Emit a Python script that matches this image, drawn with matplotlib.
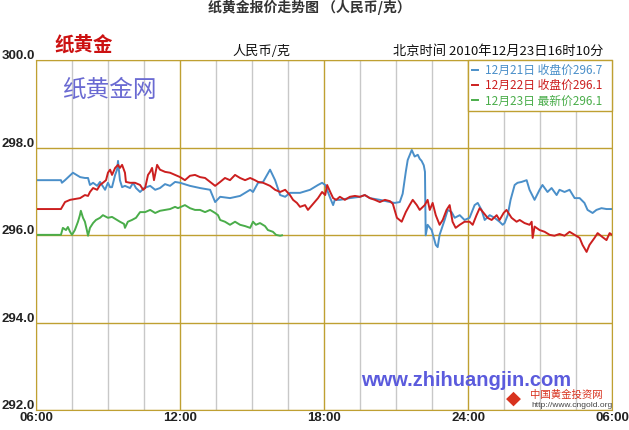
import matplotlib
matplotlib.use("Agg")
import matplotlib.pyplot as plt
from matplotlib.ticker import MultipleLocator
from matplotlib.transforms import ScaledTranslation

CJK = ['Noto Sans CJK SC', 'DejaVu Sans']
plt.rcParams['font.family'] = ['Liberation Sans', 'Noto Sans CJK SC', 'DejaVu Sans']

# hours since 06:00 of the day (30 = 06:00 next morning), price in 元/克
t_21 = [6.00, 7.02, 7.06, 7.19, 7.52, 7.82, 8.02, 8.15, 8.23, 8.36, 8.53, 8.65, 8.73, 8.86,
        8.98, 9.07, 9.15, 9.28, 9.36, 9.40, 9.48, 9.57, 9.69, 9.90, 10.03, 10.15, 10.32,
        10.49, 10.74, 10.95, 11.15, 11.36, 11.57, 11.78, 11.99, 12.40, 12.82, 13.24, 13.45,
        13.66, 14.07, 14.49, 14.70, 14.91, 15.03, 15.24, 15.45, 15.74, 15.95, 16.16, 16.37,
        16.57, 16.99, 17.41, 17.74, 17.91, 18.04, 18.25, 18.37, 18.44, 18.65, 19.07, 19.49,
        19.69, 19.90, 20.32, 20.74, 20.94, 21.15, 21.27, 21.40, 21.48, 21.65, 21.77, 21.90,
        21.98, 22.06, 22.15, 22.20, 22.23, 22.31, 22.48, 22.65, 22.73, 22.81, 23.02, 23.15,
        23.31, 23.44, 23.65, 23.85, 24.06, 24.27, 24.40, 24.56, 24.69, 24.90, 25.10, 25.31,
        25.44, 25.52, 25.65, 25.77, 25.94, 26.06, 26.23, 26.44, 26.56, 26.77, 26.98, 27.10,
        27.31, 27.48, 27.69, 27.81, 28.02, 28.23, 28.44, 28.65, 28.85, 28.98, 29.19, 29.35,
        29.56, 29.77, 30.00]
p_21 = [297.26, 297.26, 297.20, 297.26, 297.43, 297.33, 297.31, 297.31, 297.15, 297.20, 297.13,
        297.22, 297.15, 297.04, 297.20, 297.10, 297.10, 297.38, 297.50, 297.70, 297.26, 297.10,
        297.13, 297.08, 297.20, 297.08, 296.99, 297.08, 297.13, 297.04, 297.08, 297.17, 297.13,
        297.22, 297.20, 297.13, 297.08, 297.04, 296.76, 296.88, 296.85, 296.90, 296.97, 297.04,
        296.99, 297.20, 297.22, 297.50, 297.26, 296.92, 296.88, 296.97, 296.97, 297.04, 297.15,
        297.20, 297.15, 296.85, 296.69, 296.81, 296.81, 296.85, 296.88, 296.92, 296.85, 296.81,
        296.76, 296.74, 296.76, 296.95, 297.45, 297.72, 297.95, 297.80, 297.84, 297.75, 297.70,
        297.60, 297.45, 296.00, 296.24, 296.12, 295.78, 295.73, 296.01, 296.35, 296.58, 296.53,
        296.40, 296.46, 296.35, 296.40, 296.69, 296.74, 296.58, 296.35, 296.46, 296.40, 296.31,
        296.24, 296.28, 296.46, 296.81, 297.15, 297.20, 297.22, 297.26, 297.04, 296.81, 297.04,
        297.15, 296.99, 297.08, 296.92, 297.04, 296.99, 297.04, 296.85, 296.85, 296.74, 296.58,
        296.51, 296.58, 296.62, 296.60, 296.60]

t_22 = [6.00, 7.02, 7.19, 7.40, 7.60, 7.82, 8.02, 8.15, 8.23, 8.36, 8.53, 8.65, 8.77, 8.90,
        8.98, 9.07, 9.15, 9.28, 9.40, 9.48, 9.57, 9.69, 9.73, 9.90, 10.11, 10.32, 10.45,
        10.53, 10.65, 10.74, 10.82, 10.90, 11.03, 11.15, 11.36, 11.57, 11.78, 11.99, 12.19,
        12.40, 12.61, 12.82, 13.03, 13.24, 13.45, 13.66, 13.86, 14.07, 14.28, 14.49, 14.70,
        14.91, 15.11, 15.24, 15.45, 15.74, 15.95, 16.16, 16.37, 16.57, 16.70, 16.86, 16.99,
        17.20, 17.32, 17.49, 17.74, 17.91, 18.04, 18.12, 18.25, 18.37, 18.50, 18.65, 18.86,
        19.07, 19.28, 19.49, 19.69, 19.90, 20.11, 20.32, 20.53, 20.74, 20.86, 21.03, 21.23,
        21.40, 21.56, 21.69, 21.86, 21.98, 22.19, 22.31, 22.40, 22.52, 22.65, 22.81, 22.94,
        23.10, 23.23, 23.35, 23.48, 23.65, 23.85, 24.06, 24.19, 24.35, 24.48, 24.65, 24.81,
        24.98, 25.19, 25.31, 25.48, 25.60, 25.81, 26.02, 26.15, 26.35, 26.56, 26.65, 26.69,
        26.77, 26.98, 27.19, 27.40, 27.60, 27.81, 28.02, 28.23, 28.44, 28.65, 28.77, 28.94,
        29.06, 29.27, 29.40, 29.60, 29.77, 29.90, 30.00]
p_22 = [296.60, 296.60, 296.76, 296.81, 296.83, 296.85, 296.92, 296.90, 296.99, 297.08, 297.04,
        297.15, 297.20, 297.26, 297.43, 297.50, 297.38, 297.54, 297.61, 297.54, 297.61, 297.43,
        297.22, 297.20, 297.20, 297.15, 297.04, 297.08, 297.38, 297.45, 297.54, 297.26, 297.61,
        297.50, 297.45, 297.43, 297.38, 297.33, 297.26, 297.36, 297.38, 297.33, 297.31, 297.22,
        297.13, 297.22, 297.31, 297.26, 297.38, 297.31, 297.26, 297.31, 297.26, 297.22, 297.20,
        297.13, 297.04, 296.99, 297.04, 296.92, 296.81, 296.74, 296.65, 296.69, 296.58, 296.69,
        296.85, 296.99, 296.92, 297.15, 296.99, 296.85, 296.81, 296.88, 296.81, 296.88, 296.90,
        296.88, 296.92, 296.85, 296.81, 296.76, 296.81, 296.78, 296.72, 296.40, 296.31, 296.53,
        296.69, 296.81, 296.69, 296.58, 296.69, 296.81, 296.58, 296.74, 296.46, 296.24, 296.35,
        296.58, 296.69, 296.31, 296.17, 296.24, 296.31, 296.31, 296.24, 296.46, 296.62, 296.51,
        296.40, 296.35, 296.46, 296.35, 296.51, 296.58, 296.40, 296.31, 296.35, 296.28, 296.24,
        296.31, 295.94, 296.20, 296.12, 296.08, 296.01, 295.99, 296.03, 295.99, 296.08, 296.01,
        295.94, 295.78, 295.62, 295.78, 295.94, 296.05, 295.96, 295.89, 296.05, 296.01]

t_23 = [6.00, 7.02, 7.10, 7.23, 7.31, 7.40, 7.48, 7.60, 7.73, 7.81, 7.85, 7.94, 8.02, 8.10,
        8.15, 8.23, 8.36, 8.48, 8.65, 8.77, 8.98, 9.15, 9.36, 9.48, 9.65, 9.69, 9.81, 9.98,
        10.15, 10.32, 10.53, 10.74, 10.95, 11.15, 11.36, 11.57, 11.78, 11.90, 12.19, 12.40,
        12.61, 12.82, 13.03, 13.24, 13.45, 13.57, 13.66, 13.86, 14.07, 14.28, 14.49, 14.70,
        14.91, 15.03, 15.15, 15.32, 15.53, 15.65, 15.86, 15.99, 16.16, 16.24]
p_23 = [296.01, 296.01, 296.17, 296.12, 296.19, 296.08, 296.01, 296.12, 296.31, 296.46, 296.56,
        296.40, 296.31, 296.12, 295.99, 296.17, 296.28, 296.35, 296.40, 296.46, 296.40, 296.42,
        296.35, 296.31, 296.26, 296.17, 296.31, 296.35, 296.40, 296.53, 296.53, 296.58, 296.51,
        296.56, 296.58, 296.60, 296.65, 296.62, 296.69, 296.62, 296.58, 296.58, 296.53, 296.58,
        296.51, 296.46, 296.35, 296.31, 296.24, 296.31, 296.24, 296.21, 296.17, 296.31, 296.24,
        296.28, 296.21, 296.12, 296.08, 296.01, 295.99, 296.00]

labels = ['12月21日 收盘价296.7', '12月22日 收盘价296.1', '12月23日 最新价296.1']
colors = ['#4a8fc9', '#cc1f1f', '#4aad4a']
y_ticks = [292, 294, 296, 298, 300]
x_ticks = [6, 12, 18, 24, 30]
x_labels = ['06:00', '12:00', '18:00', '24:00', '06:00']

gold = '#bfa032'
fig = plt.figure(figsize=(6.29, 4.30), dpi=100)
ax = fig.add_axes([0.058, 0.0458, 0.915, 0.814])

for t, p, c, lab in zip([t_21, t_22, t_23], [p_21, p_22, p_23], colors, labels):
    ax.plot(t, p, color=c, lw=1.4, label=lab)

ax.set_xlim(6, 30)
ax.set_ylim(292, 300)
ax.set_xticks(x_ticks)
ax.set_xticklabels(x_labels, fontweight='bold', fontsize=9.5, color='#222222')
ax.set_yticks(y_ticks)
ax.set_yticklabels([f'{v:.1f}' for v in y_ticks], fontweight='bold', fontsize=9.5, color='#222222')
ax.xaxis.set_minor_locator(MultipleLocator(1.5))
ax.tick_params(which='both', length=0, pad=1)
ax.grid(which='minor', axis='x', color='#c8c8c8', lw=1)
ax.grid(which='major', color=gold, lw=1)
ax.set_axisbelow(True)
for s in ax.spines.values():
    s.set_color(gold)
for lbl in ax.get_yticklabels():
    lbl.set_transform(lbl.get_transform() + ScaledTranslation(0, 4 / 72, fig.dpi_scale_trans))

leg = ax.legend(loc='upper left', bbox_to_anchor=(0.75, 0.8697, 0.25, 0.1303), mode='expand',
                borderaxespad=0, fancybox=False, framealpha=1, edgecolor=gold,
                handlelength=0.5, handletextpad=0.6, labelspacing=0.2, borderpad=0.3,
                labelcolor='linecolor', prop={'family': CJK, 'size': 8.5})
leg.get_frame().set_linewidth(1)

fig.text(0.492, 0.983, '纸黄金报价走势图 （人民币/克）', ha='center', va='center',
         fontsize=10, fontweight='bold', color='#333333', family=CJK)
fig.text(0.087, 0.895, '纸黄金', ha='left', va='center', fontsize=14,
         fontweight='bold', color='#cc1111', family=CJK)
fig.text(0.370, 0.880, '人民币/克', ha='left', va='center', fontsize=9.5, color='#111111', family=CJK)
fig.text(0.625, 0.880, '北京时间 2010年12月23日16时10分', ha='left', va='center',
         fontsize=9.5, color='#111111', family=CJK)
fig.text(0.098, 0.790, '纸黄金网', ha='left', va='center', fontsize=17, color='#6a6ad2', family=CJK)
fig.text(0.574, 0.114, 'www.zhihuangjin.com', ha='left', va='center', fontsize=14.5,
         fontweight='bold', color='#5b5bdd')
fig.text(0.817, 0.074, '◆', ha='center', va='center', fontsize=14, color='#d8321e', family=['DejaVu Sans'])
fig.text(0.843, 0.082, '中国黄金投资网', ha='left', va='center', fontsize=7.5, color='#d8321e', family=CJK)
fig.text(0.845, 0.057, 'http://www.cngold.org', ha='left', va='center', fontsize=6, color='#444444')

fig.savefig('out.png', dpi=100, facecolor='white')
